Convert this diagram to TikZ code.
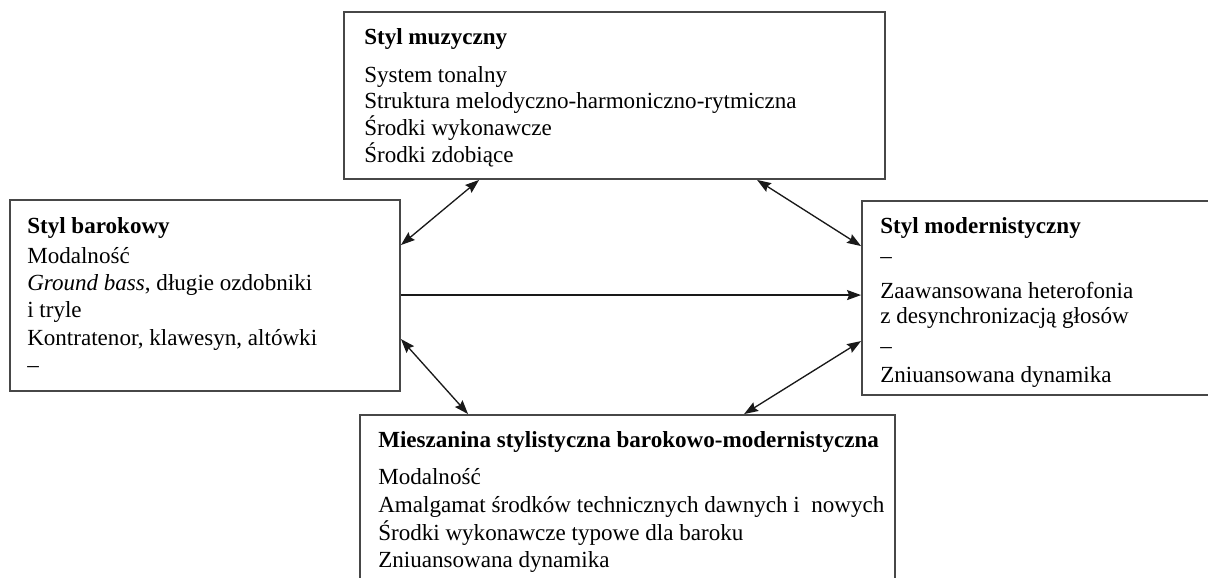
\documentclass[tikz,border=0pt]{standalone}
\usepackage{fontspec}
\setmainfont{Liberation Serif}
\usetikzlibrary{arrows.meta,fit,calc}
\begin{document}
\begin{tikzpicture}[x=0.75pt,y=-0.75pt,
  box/.style={draw=black!72, line width=1.4pt, inner sep=0pt},
  ln/.style={anchor=base west, inner sep=0pt, font=\fontsize{17.3}{20}\selectfont},
  hd/.style={ln, font=\fontsize{17.3}{20}\selectfont\bfseries},
  con/.style={draw=black!90, line width=1pt},
  dbl/.style={con, arrows={Stealth[length=10.5pt,width=7.5pt,inset=1.5pt]-Stealth[length=10.5pt,width=7.5pt,inset=1.5pt]}},
  one/.style={con, arrows={-Stealth[length=10.5pt,width=7.5pt,inset=1.5pt]}}
]
\useasboundingbox (0,0) rectangle (1208,578);
\clip (0,0) rectangle (1208,578);

% boxes
\node[box, fit={(344,12)(885,179)}] (top) {};
\node[box, fit={(10,200)(400,391)}] (lb) {};
\node[box, fit={(862,201)(1230,395)}] (rb) {};
\node[box, fit={(360,415)(895,600)}] (bb) {};

% top box text
\node[hd] (t0) at (364,45) {Styl muzyczny};
\node[ln] (t1) at (364,82) {System tonalny};
\node[ln] (t2) at (364,108) {Struktura melodyczno-harmoniczno-rytmiczna};
\node[ln] (t3) at (364,135) {Środki wykonawcze};
\node[ln] (t4) at (364,162) {Środki zdobiące};

% left box text
\node[hd] (l0) at (27,233) {Styl barokowy};
\node[ln] (l1) at (27,263) {Modalność};
\node[ln] (l2) at (27,290) {\textit{Ground bass}, długie ozdobniki};
\node[ln] (l3) at (27,317) {i tryle};
\node[ln] (l4) at (27,345) {Kontratenor, klawesyn, altówki};
\node[ln] (l5) at (27,372) {–};

% right box text
\node[hd] (r0) at (880,233) {Styl modernistyczny};
\node[ln] (r1) at (880,263) {–};
\node[ln] (r2) at (880,298) {Zaawansowana heterofonia};
\node[ln] (r3) at (880,323) {z desynchronizacją głosów};
\node[ln] (r4) at (880,353) {–};
\node[ln] (r5) at (880,382) {Zniuansowana dynamika};

% bottom box text
\node[hd] (b0) at (378,447) {Mieszanina stylistyczna barokowo-modernistyczna};
\node[ln] (b1) at (378,484) {Modalność};
\node[ln] (b2) at (378,512) {Amalgamat środków technicznych dawnych i\ \ nowych};
\node[ln] (b3) at (378,540) {Środki wykonawcze typowe dla baroku};
\node[ln] (b4) at (378,567) {Zniuansowana dynamika};

% connectors
\draw[dbl] ($(top.south west)+(136,0)$) -- ($(lb.north east)+(0,46)$);
\draw[dbl] ($(top.south west)+(414,0)$) -- ($(rb.north west)+(0,46)$);
\draw[one] ($(lb.north east)+(0,96)$) -- ($(rb.north west)+(0,95)$);
\draw[dbl] ($(lb.north east)+(0,140)$) -- ($(bb.north west)+(109,0)$);
\draw[dbl] ($(rb.north west)+(0,141)$) -- ($(bb.north west)+(385,0)$);
\end{tikzpicture}
\end{document}
